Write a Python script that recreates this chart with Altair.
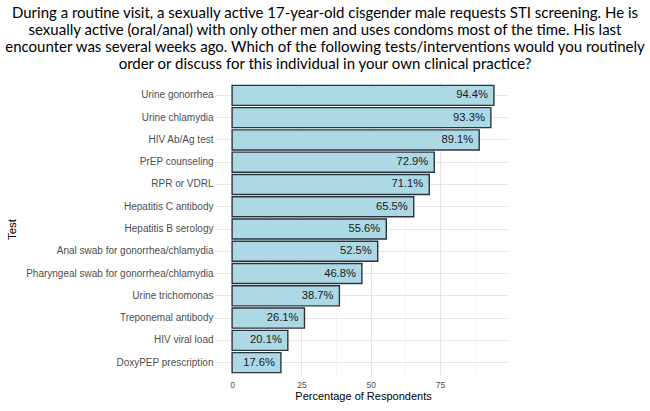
import altair as alt
import pandas as pd

tests = [
    "Urine gonorrhea",
    "Urine chlamydia",
    "HIV Ab/Ag test",
    "PrEP counseling",
    "RPR or VDRL",
    "Hepatitis C antibody",
    "Hepatitis B serology",
    "Anal swab for gonorrhea/chlamydia",
    "Pharyngeal swab for gonorrhea/chlamydia",
    "Urine trichomonas",
    "Treponemal antibody",
    "HIV viral load",
    "DoxyPEP prescription",
]
percent = [94.4, 93.3, 89.1, 72.9, 71.1, 65.5, 55.6, 52.5, 46.8, 38.7, 26.1, 20.1, 17.6]

title_lines = [
    "During a routine visit, a sexually active 17-year-old cisgender male requests STI screening. He is",
    "sexually active (oral/anal) with only other men and uses condoms most of the time. His last",
    "encounter was several weeks ago. Which of the following tests/interventions would you routinely",
    "order or discuss for this individual in your own clinical practice?",
]

df = pd.DataFrame({"Test": tests, "Percent": percent})

x_scale = alt.Scale(domain=[-4.72, 99.12], nice=False, zero=False)
y_scale = alt.Scale(paddingInner=0.1, paddingOuter=0.15)

x_enc = alt.X(
    "Percent:Q",
    scale=x_scale,
    title="Percentage of Respondents",
    axis=alt.Axis(
        values=[0, 12.5, 25, 37.5, 50, 62.5, 75, 87.5],
        labelExpr="datum.value % 25 == 0 ? datum.label : ''",
        grid=True,
        gridColor={"condition": {"test": "datum.value % 25 == 0", "value": "#E6E6E6"}, "value": "#F0F0F0"},
        gridWidth={"condition": {"test": "datum.value % 25 == 0", "value": 1}, "value": 0.7},
        domain=False,
        ticks=False,
        labelColor="#4D4D4D",
        labelFontSize=8.5,
        labelPadding=4,
        titleFontSize=11,
        titleFontWeight="normal",
        titleColor="#000000",
        titlePadding=2,
    ),
)
y_enc = alt.Y(
    "Test:N",
    sort=tests,
    scale=y_scale,
    title="Test",
    axis=alt.Axis(
        grid=True,
        gridColor="#E6E6E6",
        gridWidth=1,
        domain=False,
        ticks=True,
        tickColor="#E6E6E6",
        tickSize=4,
        labelColor="#4D4D4D",
        labelFontSize=10,
        labelPadding=2,
        labelLimit=400,
        titleFontSize=11.5,
        titleFontWeight="normal",
        titleColor="#000000",
        titlePadding=8,
    ),
)

bars = alt.Chart(df).mark_bar(
    color="#ADD8E6", stroke="#2B3540", strokeWidth=1.4
).encode(x=x_enc, x2=alt.datum(0), y=y_enc)

labels = alt.Chart(df).transform_calculate(
    label="format(datum.Percent, '.1f') + '%'"
).mark_text(
    align="right", baseline="middle", dx=-6, fontSize=11.2, color="#1A1A1A", font="Liberation Sans"
).encode(x="Percent:Q", y=alt.Y("Test:N", sort=tests), text="label:N")

chart = (
    alt.layer(bars, labels)
    .properties(
        width=288,
        height=294,
        autosize=alt.AutoSizeParams(type="none"),
        padding={"left": 219, "top": 82, "right": 143, "bottom": 35},
        title=alt.TitleParams(
            text=title_lines,
            anchor="middle",
            dx=-38,
            font="Lato",
            fontSize=15,
            fontWeight="normal",
            color="#000000",
            lineHeight=17,
            offset=10,
        ),
    )
    .configure(font="Liberation Sans")
    .configure_view(stroke=None)
)

chart.save("out.html", embed_options={"renderer": "svg", "actions": False})
